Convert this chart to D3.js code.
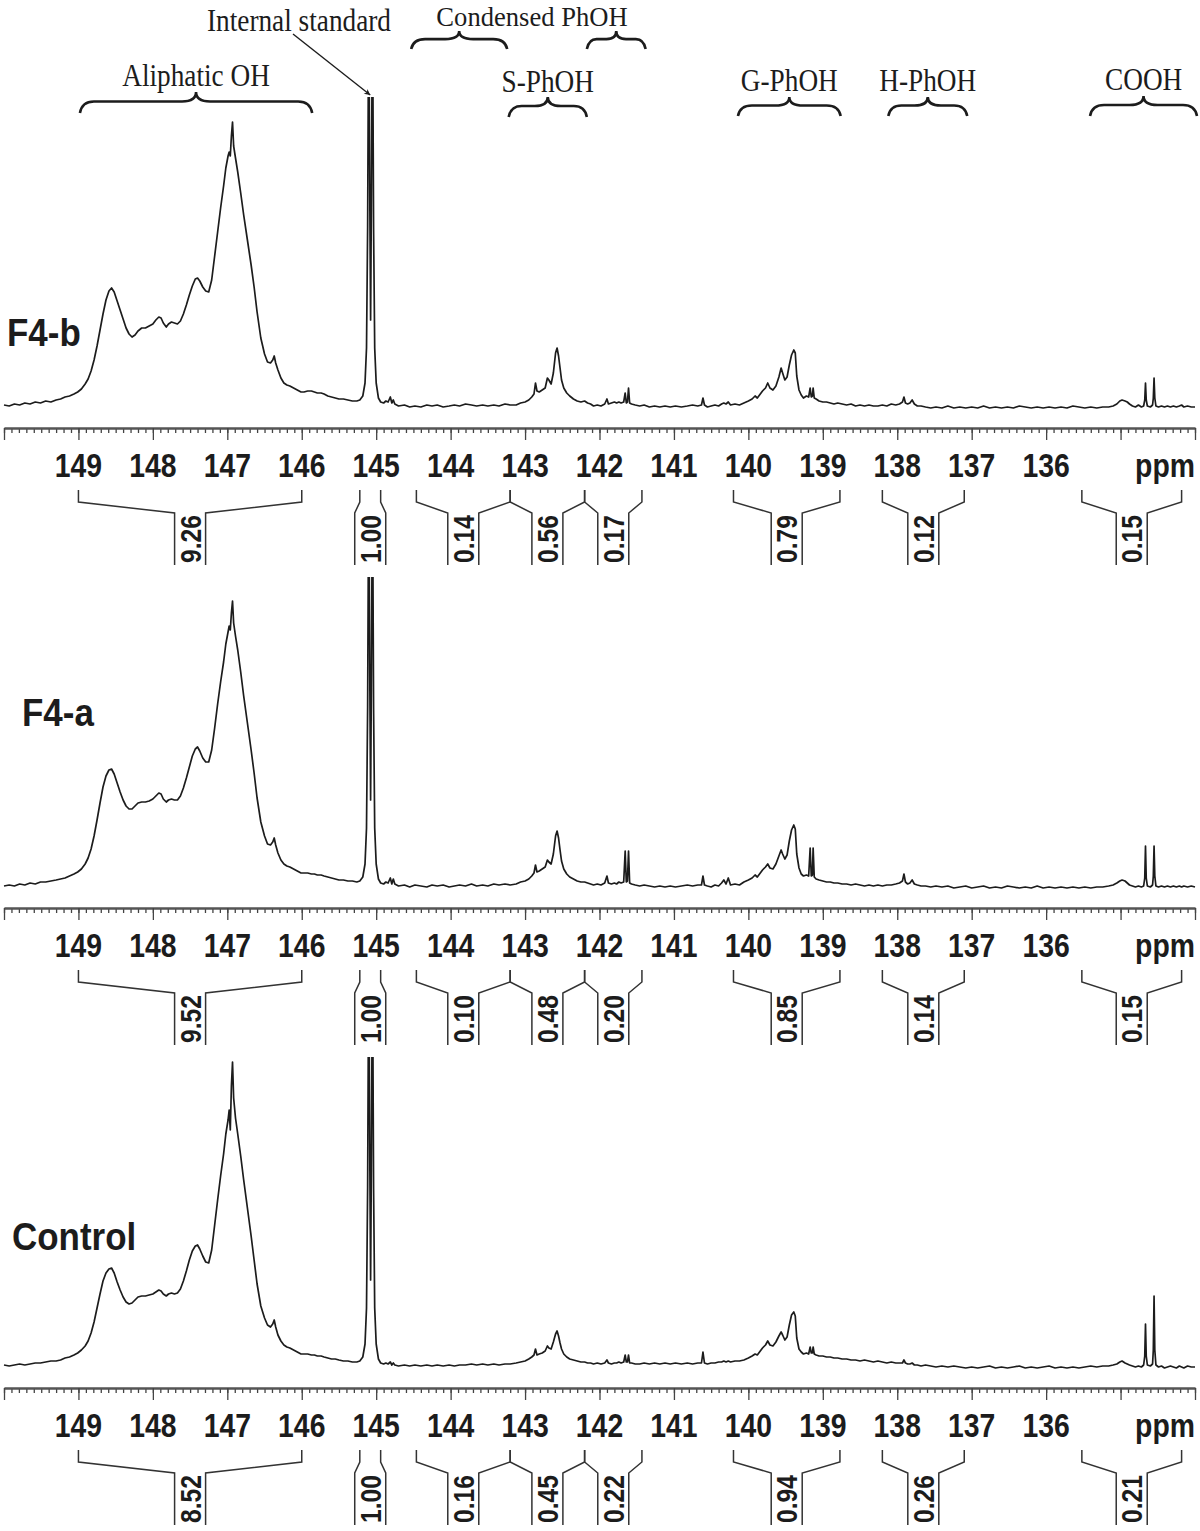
<!DOCTYPE html>
<html>
<head>
<meta charset="utf-8">
<script src="https://cdn.jsdelivr.net/npm/d3@7"></script>
<style>
body { margin: 0; background: #fff; }
</style>
</head>
<body>
<svg id="fig" width="1200" height="1531"></svg>
<script>
// ---- data ----
const sampleNames = ["F4-b", "F4-a", "Control"];
const tickLabels = [149, 148, 147, 146, 145, 144, 143, 142, 141, 140, 139, 138, 137, 136];

// integration ranges (ppm, left/right ends of each bracket)
const intRanges = [[149.0, 146.0], [145.22, 144.94], [144.46, 143.2], [143.2, 142.2],
                   [142.2, 141.43], [140.2, 138.77], [138.2, 137.1], [135.52, 134.18]];
const intF4b = ["9.26", "1.00", "0.14", "0.56", "0.17", "0.79", "0.12", "0.15"];
const intF4a = ["9.52", "1.00", "0.10", "0.48", "0.20", "0.85", "0.14", "0.15"];
const intControl = ["8.52", "1.00", "0.16", "0.45", "0.22", "0.94", "0.26", "0.21"];

// region labels with brace extents (ppm)
const regionNames = ["Aliphatic OH", "S-PhOH", "G-PhOH", "H-PhOH", "COOH"];
const regionRanges = [[148.98, 145.86], [143.22, 142.17], [140.14, 138.76], [138.12, 137.06], [135.41, 133.97]];
const condensedRanges = [[144.53, 143.24], [142.17, 141.38]];

// spectra: [ppm, intensity]
const specF4b = [
[150.00,3],[149.93,2],[149.86,4],[149.79,3],[149.72,5],[149.65,4],[149.58,6],[149.51,5],[149.44,7],[149.37,6],
[149.30,8],[149.24,9],[149.18,11],[149.12,12],[149.06,14],[149.01,16],[148.96,19],[148.91,24],[148.87,29],[148.83,37],
[148.79,48],[148.75,62],[148.71,78],[148.67,94],[148.63,108],[148.59,117],[148.555,120],[148.52,116],[148.48,107],[148.44,98],
[148.40,89],[148.36,80],[148.32,74],[148.28,71],[148.24,73],[148.20,77],[148.15,80],[148.10,80],[148.05,82],[148.00,84],
[147.96,88],[147.92,91],[147.89,90],[147.86,85],[147.82,81],[147.79,84],[147.75,86],[147.71,85],[147.67,84],[147.63,87],
[147.59,94],[147.55,103],[147.51,113],[147.47,122],[147.43,129],[147.40,130],[147.37,127],[147.33,121],[147.29,117],[147.25,116],
[147.21,128],[147.17,152],[147.13,176],[147.09,200],[147.05,222],[147.02,240],[146.99,252],[146.975,256],[146.96,252],[146.945,272],
[146.93,286],[146.915,262],[146.89,250],[146.86,236],[146.82,215],[146.78,193],[146.73,168],[146.68,143],[146.64,121],[146.60,96],
[146.55,70],[146.50,54],[146.46,46],[146.42,45],[146.39,48],[146.37,52],[146.35,45],[146.32,38],[146.28,30],[146.24,25],
[146.20,23],[146.16,22],[146.11,20],[146.06,18],[146.01,16],[145.97,16],[145.92,17],[145.87,17],[145.83,16],[145.79,15],
[145.74,15],[145.70,14],[145.65,12],[145.60,11],[145.55,10],[145.50,9],[145.44,9],[145.38,8],[145.32,7],[145.26,7],
[145.22,8],[145.18,12],[145.15,25],[145.13,60],[145.115,180],[145.10,420],[145.085,200],[145.075,88],[145.065,200],[145.05,420],
[145.035,180],[145.02,60],[145.00,25],[144.97,10],[144.94,6],[144.90,5],[144.87,7],[144.84,6],[144.81,11],[144.79,5],
[144.77,8],[144.75,4],[144.70,2],[144.62,3],[144.55,1],[144.48,2],[144.40,1],[144.32,3],[144.25,2],[144.18,3],
[144.10,1],[144.02,2],[143.95,3],[143.88,2],[143.80,4],[143.72,3],[143.65,2],[143.57,3],[143.50,2],[143.42,3],
[143.35,2],[143.27,4],[143.20,3],[143.12,3],[143.06,5],[143.00,6],[142.95,8],[142.91,11],[142.88,14],[142.86,25],
[142.84,17],[142.81,16],[142.77,18],[142.73,20],[142.70,30],[142.68,28],[142.65,24],[142.62,35],[142.59,55],[142.57,60],
[142.55,52],[142.53,40],[142.51,28],[142.48,20],[142.44,15],[142.40,12],[142.35,9],[142.30,7],[142.25,6],[142.20,7],
[142.16,5],[142.12,4],[142.08,2],[142.03,3],[141.98,2],[141.93,4],[141.90,9],[141.88,4],[141.84,5],[141.80,6],
[141.77,5],[141.74,6],[141.71,5],[141.675,6],[141.655,15],[141.64,5],[141.625,6],[141.61,20],[141.595,5],[141.57,4],
[141.52,3],[141.46,2],[141.40,3],[141.33,1],[141.26,2],[141.19,1],[141.12,2],[141.05,1],[140.98,2],[140.90,1],
[140.82,2],[140.75,3],[140.68,2],[140.63,3],[140.61,10],[140.59,3],[140.55,1],[140.50,2],[140.45,3],[140.40,2],
[140.36,4],[140.33,5],[140.30,4],[140.27,6],[140.24,3],[140.18,4],[140.12,3],[140.06,5],[140.00,7],[139.95,9],
[139.91,12],[139.88,10],[139.85,13],[139.81,17],[139.77,20],[139.74,25],[139.71,20],[139.67,18],[139.63,22],[139.59,31],
[139.56,40],[139.54,35],[139.51,28],[139.48,31],[139.45,43],[139.42,53],[139.39,58],[139.37,55],[139.35,32],[139.32,18],
[139.29,13],[139.26,10],[139.22,12],[139.19,11],[139.17,20],[139.155,11],[139.14,12],[139.13,20],[139.115,10],[139.09,9],
[139.05,7],[139.00,6],[138.95,6],[138.90,5],[138.85,4],[138.80,5],[138.74,4],[138.68,3],[138.62,4],[138.56,2],
[138.50,3],[138.44,2],[138.38,3],[138.32,2],[138.26,2],[138.20,3],[138.14,2],[138.08,4],[138.02,3],[137.97,4],
[137.93,6],[137.91,11],[137.89,5],[137.86,4],[137.83,5],[137.80,8],[137.77,4],[137.73,2],[137.68,2],[137.62,1],
[137.55,0],[137.48,1],[137.40,0],[137.32,2],[137.24,0],[137.16,1],[137.08,0],[137.00,1],[136.92,0],[136.84,2],
[136.76,0],[136.68,1],[136.60,0],[136.52,1],[136.44,0],[136.36,2],[136.28,1],[136.20,0],[136.12,1],[136.04,0],
[135.96,1],[135.88,0],[135.80,1],[135.72,0],[135.64,2],[135.56,1],[135.48,0],[135.40,1],[135.32,0],[135.24,1],
[135.16,1],[135.10,2],[135.05,4],[135.01,7],[134.98,8],[134.94,7],[134.91,6],[134.88,4],[134.84,2],[134.80,1],
[134.76,3],[134.72,1],[134.69,2],[134.675,8],[134.665,25],[134.655,8],[134.64,2],[134.60,1],[134.57,3],[134.56,10],
[134.55,30],[134.54,10],[134.525,2],[134.49,1],[134.45,2],[134.41,1],[134.37,2],[134.33,1],[134.29,2],[134.25,1],
[134.21,2],[134.18,3],[134.15,1],[134.10,2],[134.05,1],[134.00,1]
];

const specF4a = [
[150.00,2],[149.93,3],[149.86,2],[149.79,4],[149.72,3],[149.65,5],[149.58,4],[149.51,6],[149.44,6],[149.37,7],
[149.30,8],[149.24,9],[149.18,10],[149.12,12],[149.06,14],[149.01,16],[148.96,19],[148.91,24],[148.87,30],[148.83,39],
[148.79,52],[148.75,68],[148.71,85],[148.67,101],[148.63,112],[148.59,118],[148.555,119],[148.52,114],[148.48,105],[148.44,96],
[148.40,88],[148.36,82],[148.32,79],[148.28,79],[148.24,82],[148.20,85],[148.15,86],[148.10,86],[148.05,87],[148.00,89],
[147.96,92],[147.92,95],[147.89,94],[147.86,89],[147.82,86],[147.79,88],[147.75,89],[147.71,88],[147.67,88],[147.63,92],
[147.59,100],[147.55,110],[147.51,121],[147.47,132],[147.43,139],[147.40,141],[147.37,137],[147.33,130],[147.29,126],[147.25,126],
[147.21,138],[147.17,160],[147.13,184],[147.09,206],[147.05,226],[147.02,244],[146.99,256],[146.975,262],[146.96,258],[146.945,275],
[146.93,287],[146.915,265],[146.89,252],[146.86,238],[146.82,216],[146.78,192],[146.73,165],[146.68,138],[146.64,115],[146.60,90],
[146.55,66],[146.50,52],[146.46,44],[146.42,43],[146.39,46],[146.37,50],[146.35,43],[146.32,35],[146.28,28],[146.24,24],
[146.20,22],[146.16,21],[146.11,19],[146.06,17],[146.01,15],[145.97,15],[145.92,15],[145.87,14],[145.83,14],[145.79,13],
[145.74,13],[145.70,12],[145.65,11],[145.60,10],[145.55,9],[145.50,8],[145.44,8],[145.38,7],[145.32,7],[145.26,6],
[145.22,7],[145.18,11],[145.15,24],[145.13,60],[145.115,180],[145.10,420],[145.085,200],[145.075,88],[145.065,200],[145.05,420],
[145.035,180],[145.02,60],[145.00,24],[144.97,9],[144.94,5],[144.90,4],[144.87,6],[144.84,5],[144.81,10],[144.79,4],
[144.77,9],[144.75,4],[144.70,2],[144.62,3],[144.55,1],[144.48,3],[144.40,2],[144.32,1],[144.25,3],[144.18,2],
[144.10,3],[144.02,1],[143.95,2],[143.88,3],[143.80,2],[143.72,4],[143.65,2],[143.57,3],[143.50,2],[143.42,4],
[143.35,3],[143.27,4],[143.20,3],[143.12,4],[143.06,6],[143.00,7],[142.95,9],[142.91,12],[142.88,15],[142.86,23],
[142.84,16],[142.81,17],[142.77,19],[142.73,21],[142.70,28],[142.68,26],[142.65,24],[142.62,34],[142.59,52],[142.57,57],
[142.55,50],[142.53,38],[142.51,27],[142.48,19],[142.44,14],[142.40,11],[142.35,9],[142.30,7],[142.25,6],[142.20,6],
[142.16,5],[142.12,4],[142.08,3],[142.03,4],[141.98,3],[141.93,5],[141.90,12],[141.88,5],[141.84,4],[141.80,5],
[141.77,4],[141.74,6],[141.71,5],[141.675,6],[141.655,37],[141.64,6],[141.625,7],[141.61,37],[141.595,5],[141.57,4],
[141.52,3],[141.46,2],[141.40,3],[141.33,2],[141.26,1],[141.19,2],[141.12,1],[141.05,2],[140.98,1],[140.90,2],
[140.82,3],[140.75,2],[140.68,3],[140.63,3],[140.61,12],[140.59,3],[140.55,2],[140.50,1],[140.45,3],[140.40,2],
[140.36,5],[140.33,8],[140.30,4],[140.27,10],[140.24,3],[140.18,4],[140.12,3],[140.06,6],[140.00,8],[139.95,10],
[139.91,13],[139.88,11],[139.85,14],[139.81,18],[139.77,21],[139.74,24],[139.71,20],[139.67,19],[139.63,24],[139.59,32],
[139.56,38],[139.54,34],[139.51,29],[139.48,33],[139.45,47],[139.42,58],[139.39,63],[139.37,59],[139.35,34],[139.32,20],
[139.29,14],[139.26,12],[139.22,13],[139.19,12],[139.17,40],[139.155,12],[139.14,13],[139.13,40],[139.115,11],[139.09,9],
[139.05,8],[139.00,7],[138.95,6],[138.90,6],[138.85,5],[138.80,5],[138.74,4],[138.68,4],[138.62,3],[138.56,4],
[138.50,3],[138.44,2],[138.38,3],[138.32,2],[138.26,3],[138.20,2],[138.14,3],[138.08,3],[138.02,4],[137.97,5],
[137.93,7],[137.91,14],[137.89,6],[137.86,4],[137.83,5],[137.80,8],[137.77,4],[137.73,3],[137.68,2],[137.62,2],
[137.55,1],[137.48,2],[137.40,1],[137.32,2],[137.24,0],[137.16,1],[137.08,2],[137.00,0],[136.92,1],[136.84,2],
[136.76,0],[136.68,1],[136.60,0],[136.52,2],[136.44,1],[136.36,0],[136.28,1],[136.20,0],[136.12,2],[136.04,0],
[135.96,1],[135.88,0],[135.80,1],[135.72,0],[135.64,1],[135.56,0],[135.48,1],[135.40,0],[135.32,1],[135.24,1],
[135.16,2],[135.10,3],[135.05,5],[135.01,7],[134.98,8],[134.94,7],[134.91,5],[134.88,3],[134.84,2],[134.80,1],
[134.76,2],[134.72,1],[134.69,2],[134.675,10],[134.665,42],[134.655,10],[134.64,2],[134.60,1],[134.57,3],[134.56,12],
[134.55,42],[134.54,12],[134.525,2],[134.49,1],[134.45,2],[134.41,1],[134.37,2],[134.33,1],[134.29,2],[134.25,1],
[134.21,2],[134.18,1],[134.15,2],[134.10,1],[134.05,2],[134.00,1]
];

const specControl = [
[150.00,3],[149.93,2],[149.86,3],[149.79,4],[149.72,3],[149.65,4],[149.58,5],[149.51,5],[149.44,6],[149.37,7],
[149.30,7],[149.24,8],[149.18,10],[149.12,11],[149.06,13],[149.01,15],[148.96,18],[148.91,22],[148.87,27],[148.83,35],
[148.79,46],[148.75,60],[148.71,74],[148.67,87],[148.63,95],[148.59,99],[148.555,100],[148.52,95],[148.48,86],[148.44,78],
[148.40,71],[148.36,66],[148.32,64],[148.28,65],[148.24,68],[148.20,71],[148.15,72],[148.10,72],[148.05,73],[148.00,74],
[147.96,76],[147.92,78],[147.89,77],[147.86,74],[147.82,72],[147.79,74],[147.75,75],[147.71,74],[147.67,75],[147.63,79],
[147.59,87],[147.55,97],[147.51,108],[147.47,117],[147.43,122],[147.40,123],[147.37,119],[147.33,112],[147.29,106],[147.25,105],
[147.21,118],[147.17,143],[147.13,168],[147.09,192],[147.05,214],[147.02,234],[146.99,248],[146.975,258],[146.96,238],[146.945,282],
[146.93,306],[146.915,270],[146.89,250],[146.86,234],[146.82,212],[146.78,188],[146.73,160],[146.68,132],[146.64,108],[146.60,84],
[146.55,62],[146.50,50],[146.46,43],[146.42,41],[146.39,44],[146.37,48],[146.35,41],[146.32,33],[146.28,27],[146.24,23],
[146.20,21],[146.16,20],[146.11,18],[146.06,16],[146.01,14],[145.97,14],[145.92,14],[145.87,13],[145.83,13],[145.79,12],
[145.74,12],[145.70,11],[145.65,10],[145.60,9],[145.55,9],[145.50,8],[145.44,7],[145.38,7],[145.32,6],[145.26,6],
[145.22,7],[145.18,11],[145.15,24],[145.13,60],[145.115,180],[145.10,420],[145.085,200],[145.075,88],[145.065,200],[145.05,420],
[145.035,180],[145.02,60],[145.00,24],[144.97,9],[144.94,5],[144.90,4],[144.87,5],[144.84,4],[144.81,6],[144.79,3],
[144.77,5],[144.75,3],[144.70,2],[144.62,3],[144.55,2],[144.48,3],[144.40,2],[144.32,3],[144.25,2],[144.18,3],
[144.10,2],[144.02,3],[143.95,2],[143.88,3],[143.80,3],[143.72,4],[143.65,3],[143.57,4],[143.50,3],[143.42,4],
[143.35,3],[143.27,4],[143.20,4],[143.12,5],[143.06,6],[143.00,7],[142.95,9],[142.91,11],[142.88,13],[142.86,19],
[142.84,13],[142.81,14],[142.77,15],[142.73,17],[142.70,22],[142.68,20],[142.65,19],[142.62,26],[142.59,34],[142.57,37],
[142.55,32],[142.53,25],[142.51,19],[142.48,14],[142.44,11],[142.40,9],[142.35,8],[142.30,7],[142.25,6],[142.20,6],
[142.16,5],[142.12,5],[142.08,4],[142.03,5],[141.98,4],[141.93,5],[141.90,8],[141.88,5],[141.84,4],[141.80,5],
[141.77,5],[141.74,6],[141.71,5],[141.675,6],[141.655,13],[141.64,6],[141.625,6],[141.61,13],[141.595,5],[141.57,5],
[141.52,4],[141.46,4],[141.40,5],[141.33,4],[141.26,5],[141.19,4],[141.12,5],[141.05,4],[140.98,5],[140.90,4],
[140.82,5],[140.75,4],[140.68,5],[140.63,5],[140.61,16],[140.59,5],[140.55,4],[140.50,5],[140.45,5],[140.40,6],
[140.36,6],[140.33,7],[140.30,6],[140.27,7],[140.24,6],[140.18,7],[140.12,7],[140.06,8],[140.00,10],[139.95,12],
[139.91,14],[139.88,13],[139.85,16],[139.81,20],[139.77,23],[139.74,27],[139.71,23],[139.67,22],[139.63,26],[139.59,32],
[139.56,36],[139.54,33],[139.51,28],[139.48,31],[139.45,43],[139.42,53],[139.39,56],[139.37,52],[139.35,30],[139.32,19],
[139.29,16],[139.26,14],[139.22,15],[139.19,14],[139.17,21],[139.155,15],[139.14,15],[139.13,21],[139.115,14],[139.09,13],
[139.05,12],[139.00,12],[138.95,11],[138.90,11],[138.85,10],[138.80,10],[138.74,9],[138.68,9],[138.62,8],[138.56,8],
[138.50,7],[138.44,8],[138.38,7],[138.32,6],[138.26,7],[138.20,6],[138.14,5],[138.08,6],[138.02,5],[137.97,5],
[137.93,5],[137.91,8],[137.89,5],[137.86,4],[137.83,4],[137.80,5],[137.77,3],[137.73,3],[137.68,2],[137.62,3],
[137.55,2],[137.48,1],[137.40,2],[137.32,1],[137.24,2],[137.16,1],[137.08,0],[137.00,1],[136.92,0],[136.84,1],
[136.76,2],[136.68,0],[136.60,1],[136.52,0],[136.44,1],[136.36,2],[136.28,0],[136.20,1],[136.12,0],[136.04,1],
[135.96,2],[135.88,0],[135.80,1],[135.72,0],[135.64,1],[135.56,0],[135.48,1],[135.40,2],[135.32,1],[135.24,2],
[135.16,2],[135.10,3],[135.05,4],[135.01,6],[134.98,7],[134.94,5],[134.91,4],[134.88,3],[134.84,2],[134.80,1],
[134.76,2],[134.72,1],[134.69,3],[134.675,12],[134.665,44],[134.655,12],[134.64,3],[134.60,2],[134.57,4],[134.56,18],
[134.55,72],[134.54,18],[134.525,3],[134.49,1],[134.45,2],[134.41,0],[134.37,1],[134.33,2],[134.29,1],[134.25,0],
[134.21,2],[134.18,1],[134.15,0],[134.10,2],[134.05,1],[134.00,1]
];

const spectra = [specF4b, specF4a, specControl];
const integrals = [intF4b, intF4a, intControl];

// ---- layout ----
const W = 1200, H = 1531;
const panelBase = [408, 888, 1368];   // spectrum baseline of each panel
const panelSpan = 311;                // visible height above baseline
const axisGap = 20;                   // baseline -> axis line
const ink = "#1c1c1c";

const svg = d3.select("#fig");
const x = d3.scaleLinear().domain([150, 134]).range([4, 1195]);

// text squeezed horizontally like the figure's fonts
function squeezed(sel, str, tx, ty, o) {
  return sel.append("text")
    .attr("transform", `translate(${tx},${ty})` + (o.rotate ? ` rotate(${o.rotate})` : "") + ` scale(${o.sx || 1},1)`)
    .attr("font-family", o.family)
    .attr("font-size", o.size)
    .attr("font-weight", o.weight || "normal")
    .attr("text-anchor", o.anchor || "start")
    .attr("fill", ink)
    .text(str);
}
const sansB = { family: "'Liberation Sans', Arial, sans-serif", weight: "bold" };
const serif = { family: "'Liberation Serif', 'Times New Roman', serif" };

// curly brace opening downward, tip upward
function bracePath(x0, x1, yTip, yEnd) {
  const xm = (x0 + x1) / 2, ym = yTip + (yEnd - yTip) * 0.45, r = Math.min(14, (x1 - x0) / 6);
  return `M${x0},${yEnd} Q${x0 + 2},${ym} ${x0 + r},${ym} L${xm - r},${ym} Q${xm},${ym} ${xm},${yTip}` +
         ` Q${xm},${ym} ${xm + r},${ym} L${x1 - r},${ym} Q${x1 - 2},${ym} ${x1},${yEnd}`;
}

const defs = svg.append("defs");
defs.append("marker").attr("id", "arrow").attr("viewBox", "0 0 10 10")
  .attr("refX", 10).attr("refY", 5).attr("markerWidth", 9).attr("markerHeight", 6)
  .attr("orient", "auto").attr("markerUnits", "userSpaceOnUse")
  .append("path").attr("d", "M0,0 L10,5 L0,10 L3,5 Z").attr("fill", ink);

// ---- top annotations ----
const annot = svg.append("g");
squeezed(annot, "Internal standard", 299, 31, { ...serif, size: 31, sx: 0.88, anchor: "middle" });
annot.append("line")
  .attr("x1", 293).attr("y1", 34)
  .attr("x2", x(145.08)).attr("y2", panelBase[0] - panelSpan - 2)
  .attr("stroke", ink).attr("stroke-width", 1.4).attr("marker-end", "url(#arrow)");

squeezed(annot, "Condensed PhOH", 532, 26, { ...serif, size: 28, sx: 0.95, anchor: "middle" });
condensedRanges.forEach(r => {
  annot.append("path").attr("d", bracePath(x(r[0]), x(r[1]), 31, 49))
    .attr("fill", "none").attr("stroke", ink).attr("stroke-width", 2.6);
});

const textBase = [86, 92, 91, 91, 90];
const braceTip = [92, 97, 97, 97, 96];
const braceEnd = [113, 117, 116, 116, 116];
regionNames.forEach((n, i) => {
  const r = regionRanges[i];
  const xm = (x(r[0]) + x(r[1])) / 2;
  squeezed(annot, n, xm, textBase[i], { ...serif, size: 31, sx: 0.88, anchor: "middle" });
  annot.append("path").attr("d", bracePath(x(r[0]), Math.min(x(r[1]), 1197), braceTip[i], braceEnd[i]))
    .attr("fill", "none").attr("stroke", ink).attr("stroke-width", 2.6);
});

// ---- panels ----
const majorTicks = x.ticks(16);
const minorTicks = x.ticks(160);

panelBase.forEach((base, i) => {
  const g = svg.append("g");
  const y = d3.scaleLinear().domain([0, panelSpan]).range([base, base - panelSpan]);

  defs.append("clipPath").attr("id", "clip" + i)
    .append("rect").attr("x", 0).attr("y", base - panelSpan).attr("width", W).attr("height", panelSpan + 15);

  g.append("path")
    .datum(spectra[i])
    .attr("clip-path", `url(#clip${i})`)
    .attr("fill", "none").attr("stroke", ink).attr("stroke-width", 1.7)
    .attr("stroke-linejoin", "round")
    .attr("d", d3.line().x(d => x(d[0])).y(d => y(d[1])));

  // sample label
  const labelY = [346, 726, 1250][i];
  const labelX = [7, 22, 12][i];
  squeezed(g, sampleNames[i], labelX, labelY, { ...sansB, size: 38, sx: 0.92 });

  // axis
  const ay = base + axisGap;
  const axMinor = g.append("g").attr("transform", `translate(0,${ay})`)
    .call(d3.axisBottom(x).tickValues(minorTicks).tickSize(5).tickSizeOuter(0).tickFormat(""));
  const axMajor = g.append("g").attr("transform", `translate(0,${ay})`)
    .call(d3.axisBottom(x).tickValues(majorTicks).tickSize(12).tickSizeOuter(0).tickFormat(""));
  [axMinor, axMajor].forEach(a => {
    a.select(".domain").attr("stroke", "#555").attr("stroke-width", 2);
    a.selectAll(".tick line").attr("stroke", "#444").attr("stroke-width", 1.3);
  });

  tickLabels.forEach(v => {
    squeezed(g, String(v), x(v), ay + 49, { ...sansB, size: 33, sx: 0.86, anchor: "middle" });
  });
  squeezed(g, "ppm", 1195, ay + 49, { ...sansB, size: 33, sx: 0.86, anchor: "end" });

  // integration brackets
  const yTop = ay + 62, yKink = ay + 74, yDiag = ay + 85, yBot = ay + 137;
  intRanges.forEach((r, k) => {
    const xl = x(r[0]), xr = x(r[1]), xc = (xl + xr) / 2;
    const il = xc - 15.5, ir = xc + 15.5;
    g.append("path")
      .attr("d", `M${xl},${yTop} V${yKink} L${il},${yDiag} V${yBot} M${xr},${yTop} V${yKink} L${ir},${yDiag} V${yBot}`)
      .attr("fill", "none").attr("stroke", "#333").attr("stroke-width", 1.5);
    squeezed(g, integrals[i][k], xc + 10.5, yBot - 2, { ...sansB, size: 30, sx: 0.82, rotate: -90 });
  });
});
</script>
</body>
</html>
